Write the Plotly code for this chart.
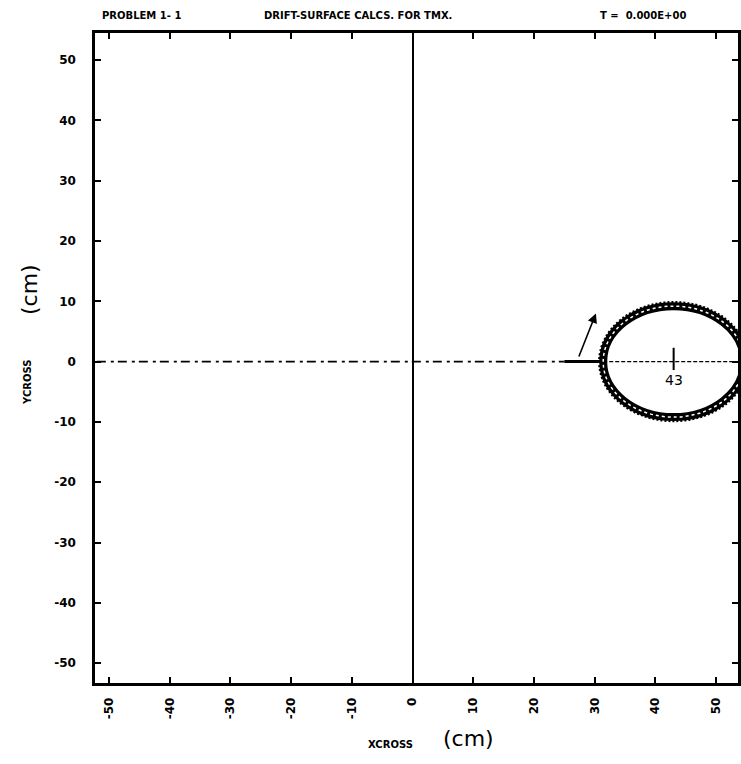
import plotly.graph_objects as go

# ---- data ----
x_ticks = [-50, -40, -30, -20, -10, 0, 10, 20, 30, 40, 50]
y_ticks = [-50, -40, -30, -20, -10, 0, 10, 20, 30, 40, 50]
x_range = [-52.3, 53.6]
y_range = [-53.3, 54.5]
ellipse_center = [43, 0]
ellipse_semi_axes = [11.6, 9.2]
drift_line_x = [-52, 25]
arrow_base = [27.3, 0.6]
arrow_tip = [30.2, 8.0]
arrow_foot = [25.0, 31.0]
title_left = "PROBLEM 1- 1"
title_mid = "DRIFT-SURFACE CALCS. FOR TMX."
title_right = "T =  0.000E+00"

FONT = "DejaVu Sans"
fig = go.Figure()

fig.add_trace(go.Scatter(x=[x_range[0], x_range[1]], y=[y_range[0], y_range[1]],
                         mode="markers", marker=dict(opacity=0), showlegend=False,
                         hoverinfo="skip"))

# dashed y = 0 line (left part)
fig.add_trace(go.Scatter(x=drift_line_x, y=[0, 0], mode="lines",
                         line=dict(color="black", width=1.6, dash="9px,5px,3px,4px"),
                         showlegend=False, hoverinfo="skip"))
# dashed line across the ellipse
fig.add_trace(go.Scatter(x=[ellipse_center[0] - ellipse_semi_axes[0], x_range[1]], y=[0, 0],
                         mode="lines", line=dict(color="black", width=1.3, dash="4px,2px"),
                         showlegend=False, hoverinfo="skip"))

cx, cy = ellipse_center
a, b = ellipse_semi_axes
shapes = [
    dict(type="circle", xref="x", yref="y", x0=cx - a, x1=cx + a, y0=cy - b, y1=cy + b,
         line=dict(color="black", width=8)),
    dict(type="circle", xref="x", yref="y", x0=cx - a, x1=cx + a, y0=cy - b, y1=cy + b,
         line=dict(color="white", width=1.5, dash="dot")),
    dict(type="circle", xref="x", yref="y", x0=cx - a - 0.6, x1=cx + a + 0.6,
         y0=cy - b - 0.6, y1=cy + b + 0.6,
         line=dict(color="black", width=3, dash="2px,2px")),
    # center marker
    dict(type="line", xref="x", yref="y", x0=cx, x1=cx, y0=-1.4, y1=2.3,
         line=dict(color="black", width=2)),
    # thick foot of the hand-drawn arrow
    dict(type="line", xref="x", yref="y", x0=arrow_foot[0], x1=arrow_foot[1], y0=0, y1=0,
         line=dict(color="black", width=3)),
]

L, R, T, B = 95, 738, 33, 683
def px(xp, yp):
    return (xp - L) / (R - L), (B - yp) / (B - T)

def ptext(text, xp, yp, size=10, bold=True, angle=0, xanchor="center"):
    x, y = px(xp, yp)
    return dict(text=("<b>%s</b>" % text) if bold else text, x=x, y=y,
                xref="paper", yref="paper", xanchor=xanchor, yanchor="middle",
                showarrow=False, textangle=angle,
                font=dict(family=FONT, size=size, color="black"))

annotations = [
    ptext(title_left, 100, 16, size=10, xanchor="left"),
    ptext(title_mid, 262, 16, size=10, xanchor="left"),
    ptext(title_right, 598, 16, size=10, xanchor="left"),
    ptext("XCROSS", 390, 744, size=10),
    ptext("(cm)", 468, 738, size=22, bold=False),
    ptext("YCROSS", 27, 383, size=10, angle=-90),
    ptext("(cm)", 30, 290, size=22, bold=False, angle=-90),
    dict(text="43", x=cx, y=-3.0, xref="x", yref="y", showarrow=False,
         font=dict(family=FONT, size=14, color="black")),
    dict(x=arrow_tip[0], y=arrow_tip[1], ax=arrow_base[0], ay=arrow_base[1],
         xref="x", yref="y", axref="x", ayref="y", showarrow=True,
         arrowhead=2, arrowsize=1.2, arrowwidth=1.6, arrowcolor="black", text=""),
]

axis_common = dict(showline=True, linecolor="black", linewidth=2.5, mirror="ticks",
                   ticks="inside", ticklen=6, tickwidth=2, tickcolor="black",
                   showgrid=False, automargin=False,
                   tickfont=dict(family=FONT, size=12, color="black", weight="bold"))

fig.update_layout(
    width=741, height=764,
    margin=dict(l=L, r=741 - R, t=T, b=764 - B, autoexpand=False),
    paper_bgcolor="white", plot_bgcolor="white",
    showlegend=False,
    shapes=shapes,
    annotations=annotations,
    xaxis=dict(range=x_range, tickvals=x_ticks, ticktext=[str(v) for v in x_ticks],
               tickangle=-90, zeroline=True, zerolinecolor="black", zerolinewidth=2,
               ticklabelstandoff=7, **axis_common),
    yaxis=dict(range=y_range, tickvals=y_ticks, ticktext=[str(v) for v in y_ticks],
               zeroline=False, ticklabelstandoff=14, **axis_common),
)

fig.write_html("out.html", config={"displayModeBar": False},
               post_script="document.body.style.margin='0px';document.body.style.overflow='hidden';")
